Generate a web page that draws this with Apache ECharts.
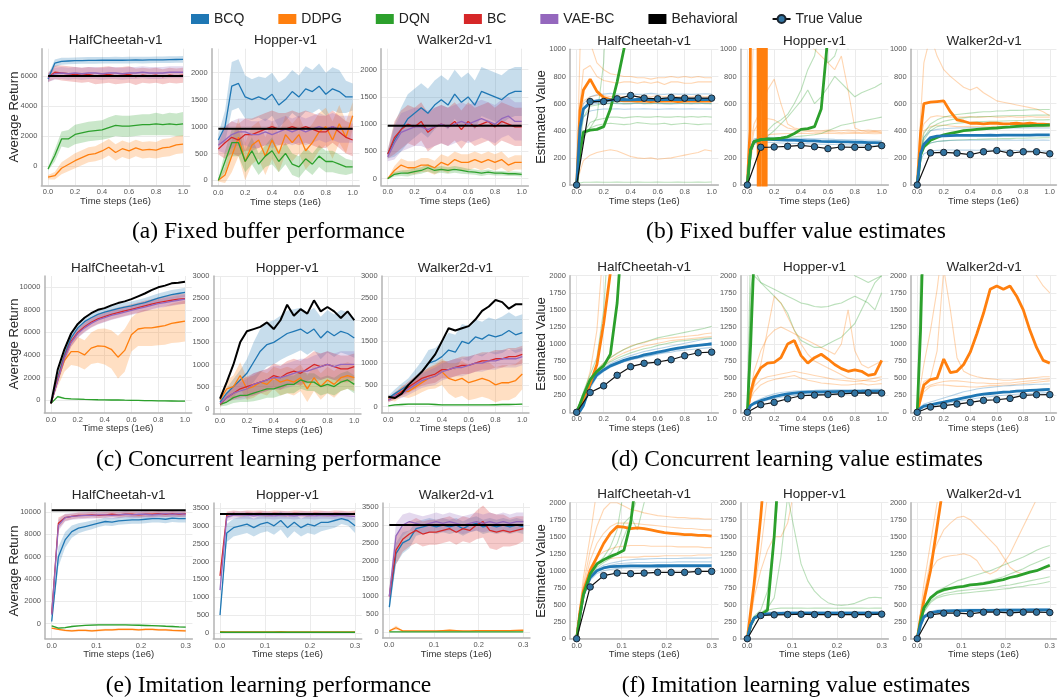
<!DOCTYPE html>
<html>
<head>
<meta charset="utf-8">
<title>BCQ experiments</title>
<script src="https://cdn.jsdelivr.net/npm/echarts@6/dist/echarts.min.js"></script>
<style>
  html, body { margin: 0; padding: 0; background: #fff; }
  #main { width: 1058px; height: 700px; }
</style>
</head>
<body>
<div id="main"></div>
<script>
// ---- x grids ----
const X1 = [0, 0.05, 0.1, 0.15, 0.2, 0.25, 0.3, 0.35, 0.4, 0.45, 0.5, 0.55, 0.6, 0.65, 0.7, 0.75, 0.8, 0.85, 0.9, 0.95, 1.0];
const VX1 = [0, 0.025, 0.05, 0.1, 0.15, 0.2, 0.25, 0.3, 0.35, 0.4, 0.45, 0.5, 0.55, 0.6, 0.65, 0.7, 0.75, 0.8, 0.85, 0.9, 0.95, 1.0];
const TVX1 = [0, 0.1, 0.2, 0.3, 0.4, 0.5, 0.6, 0.7, 0.8, 0.9, 1.0];
const X3 = [0, 0.015, 0.03, 0.045, 0.06, 0.075, 0.09, 0.105, 0.12, 0.135, 0.15, 0.165, 0.18, 0.195, 0.21, 0.225, 0.24, 0.255, 0.27, 0.285, 0.3];
const VX3 = [0, 0.0075, 0.015, 0.03, 0.045, 0.06, 0.075, 0.09, 0.105, 0.12, 0.135, 0.15, 0.165, 0.18, 0.195, 0.21, 0.225, 0.24, 0.255, 0.27, 0.285, 0.3];
const TVX3 = [0, 0.03, 0.06, 0.09, 0.12, 0.15, 0.18, 0.21, 0.24, 0.27, 0.3];
const XT1 = [0, 0.2, 0.4, 0.6, 0.8, 1.0];
const XT3 = [0, 0.1, 0.2, 0.3];

// ---- (a) fixed buffer performance ----
const A_HC_BCQ = [5800, 6850, 6980, 7000, 7020, 7030, 7040, 7040, 7050, 7050, 7060, 7050, 7060, 7070, 7060, 7070, 7080, 7080, 7090, 7100, 7110];
const A_HC_BCQ_SD = [250, 250, 230, 220, 220, 220, 220, 220, 220, 220, 220, 220, 220, 220, 220, 220, 220, 220, 220, 220, 220];
const A_HC_DDPG = [-750, -650, -150, 100, 350, 550, 750, 820, 1000, 1250, 900, 1150, 1000, 1200, 1050, 1100, 1050, 1200, 1250, 1400, 1450];
const A_HC_DDPG_SD = [150, 250, 400, 450, 500, 500, 500, 500, 550, 550, 550, 550, 550, 550, 550, 550, 550, 600, 600, 600, 600];
const A_HC_DQN = [-200, 700, 1800, 1800, 2100, 2200, 2300, 2350, 2400, 2550, 2700, 2650, 2650, 2700, 2750, 2750, 2800, 2750, 2800, 2750, 2800];
const A_HC_DQN_SD = [100, 400, 500, 600, 650, 650, 650, 650, 650, 700, 700, 700, 700, 700, 700, 700, 750, 700, 750, 750, 800];
const A_HC_BC = [5900, 6250, 6200, 6150, 6100, 6050, 6100, 6000, 6050, 6100, 6000, 6050, 6100, 5950, 6050, 6000, 6050, 5950, 6050, 6000, 6050];
const A_HC_BC_SD = [300, 450, 500, 500, 500, 500, 500, 550, 550, 550, 550, 550, 550, 550, 500, 500, 500, 500, 500, 500, 500];
const A_HC_VAE = [5900, 6150, 6200, 6150, 6200, 6150, 6200, 6200, 6150, 6200, 6200, 6150, 6200, 6200, 6250, 6200, 6200, 6200, 6250, 6250, 6250];
const A_HC_VAE_SD = [300, 400, 400, 400, 400, 400, 400, 400, 400, 400, 400, 400, 400, 400, 400, 400, 400, 400, 400, 400, 400];
const A_HC_BEH = 6000;

const A_HOP_BCQ = [750, 1000, 1750, 1800, 1550, 1500, 1550, 1500, 1600, 1400, 1500, 1650, 1550, 1700, 1650, 1750, 1600, 1700, 1650, 1550, 1550];
const A_HOP_BCQ_SD = [100, 300, 450, 450, 400, 380, 380, 400, 400, 420, 400, 400, 400, 420, 400, 420, 400, 400, 400, 300, 250];
const A_HOP_DDPG = [0, 100, 450, 800, 350, 650, 750, 450, 750, 500, 850, 700, 850, 550, 700, 900, 1000, 750, 1050, 800, 1200];
const A_HOP_DDPG_SD = [20, 150, 300, 350, 350, 350, 350, 350, 350, 350, 350, 350, 350, 350, 350, 350, 350, 350, 350, 300, 250];
const A_HOP_DQN = [0, 350, 700, 700, 350, 550, 300, 450, 550, 350, 500, 300, 250, 400, 300, 450, 350, 350, 300, 250, 250];
const A_HOP_DQN_SD = [20, 200, 250, 250, 200, 250, 200, 200, 250, 200, 200, 200, 200, 200, 200, 200, 200, 200, 180, 150, 120];
const A_HOP_BC = [580, 700, 800, 750, 850, 850, 900, 950, 1000, 950, 950, 1000, 950, 1000, 950, 900, 900, 1000, 900, 800, 750];
const A_HOP_BC_SD = [100, 300, 300, 300, 300, 300, 300, 300, 300, 300, 300, 300, 300, 300, 300, 300, 300, 300, 300, 300, 300];
const A_HOP_VAE = [650, 750, 850, 900, 900, 850, 850, 900, 850, 900, 950, 900, 950, 900, 950, 1000, 950, 1000, 950, 950, 950];
const A_HOP_VAE_SD = [100, 250, 250, 250, 250, 250, 250, 250, 250, 250, 250, 250, 250, 250, 250, 250, 250, 250, 250, 250, 250];
const A_HOP_BEH = 960;

const A_WAL_BCQ = [450, 700, 900, 1100, 1200, 1300, 1200, 1350, 1450, 1350, 1550, 1400, 1500, 1350, 1600, 1550, 1500, 1450, 1550, 1600, 1600];
const A_WAL_BCQ_SD = [80, 300, 400, 450, 450, 450, 450, 450, 450, 450, 450, 450, 450, 450, 450, 450, 450, 450, 450, 450, 450];
const A_WAL_DDPG = [0, 150, 250, 200, 200, 250, 250, 200, 300, 250, 350, 300, 300, 350, 300, 350, 300, 350, 250, 300, 300];
const A_WAL_DDPG_SD = [10, 80, 120, 120, 120, 130, 130, 130, 150, 150, 150, 150, 150, 150, 150, 150, 150, 150, 130, 130, 130];
const A_WAL_DQN = [0, 80, 100, 100, 130, 150, 200, 150, 170, 150, 170, 150, 130, 120, 100, 120, 100, 100, 90, 90, 80];
const A_WAL_DQN_SD = [10, 40, 50, 60, 60, 60, 70, 60, 60, 60, 60, 60, 50, 50, 50, 50, 40, 40, 40, 40, 40];
const A_WAL_BC = [450, 750, 900, 1000, 950, 1050, 850, 950, 1000, 950, 1050, 900, 1050, 950, 1000, 1050, 950, 1050, 1000, 950, 950];
const A_WAL_BC_SD = [80, 300, 350, 350, 350, 350, 350, 350, 350, 350, 350, 350, 350, 350, 350, 350, 350, 350, 350, 350, 350];
const A_WAL_VAE = [400, 650, 850, 900, 950, 950, 900, 950, 1000, 950, 1000, 1050, 1000, 1050, 1100, 1050, 1000, 1100, 1150, 1050, 1050];
const A_WAL_VAE_SD = [80, 300, 350, 350, 350, 350, 350, 350, 350, 350, 350, 350, 350, 350, 350, 350, 350, 350, 350, 350, 350];
const A_WAL_BEH = 970;

// ---- (b) fixed buffer value estimates ----
const B_HC_TRUE = [0, 615, 615, 635, 660, 640, 635, 645, 640, 640, 640];
const B_HC_BCQ = [0, 420, 560, 610, 620, 625, 625, 628, 630, 628, 630, 630, 628, 630, 632, 630, 630, 632, 630, 632, 630, 632];
const B_HC_DDPG = [0, 550, 700, 780, 690, 645, 630, 625, 620, 620, 618, 620, 615, 620, 618, 620, 615, 618, 620, 618, 620, 618];
const B_HC_DQN = [0, 250, 390, 405, 410, 430, 560, 760, 1000, 1300, 1600, 2000, 2400, 2800, 3000, 3000, 3000, 3000, 3000, 3000, 3000, 3000];
const B_HC_DDPG_SEEDS = [
  [0, 1000, 1150, 1050, 900, 850, 820, 810, 800, 800, 790, 790, 780, 790, 790, 800, 790, 800, 790, 800, 790, 790],
  [0, 600, 850, 880, 800, 770, 760, 750, 760, 760, 750, 760, 750, 760, 740, 760, 760, 750, 750, 760, 760, 760],
  [0, 500, 620, 650, 660, 660, 650, 660, 650, 660, 650, 660, 650, 660, 650, 660, 650, 655, 650, 660, 650, 655],
  [0, 100, 180, 220, 240, 250, 260, 250, 230, 210, 200, 195, 200, 190, 195, 200, 210, 220, 230, 240, 260, 250]
];
const B_HC_DQN_SEEDS = [
  [0, 200, 380, 460, 480, 490, 500, 500, 495, 500, 505, 500, 500, 505, 500, 500, 505, 500, 505, 500, 505, 500],
  [0, 180, 350, 420, 440, 450, 455, 450, 445, 450, 460, 455, 450, 450, 455, 445, 450, 455, 450, 445, 450, 450],
  [0, 15, 20, 20, 22, 20, 20, 22, 20, 20, 22, 20, 20, 22, 20, 20, 22, 20, 20, 22, 20, 22],
  [0, 250, 380, 420, 500, 900, 2000, 3000, 3000, 3000, 3000, 3000, 3000, 3000, 3000, 3000, 3000, 3000, 3000, 3000, 3000, 3000],
  [0, 300, 500, 580, 590, 600, 600, 605, 600, 600, 605, 600, 600, 605, 600, 600, 605, 600, 600, 605, 600, 600]
];
const B_HC_BCQ_SEEDS = [
  [0, 380, 500, 545, 555, 560, 560, 562, 558, 560, 560, 562, 560, 558, 560, 562, 560, 560, 562, 560, 560, 560],
  [0, 450, 600, 650, 665, 670, 675, 670, 672, 670, 668, 670, 675, 670, 668, 672, 670, 670, 668, 670, 672, 670],
  [0, 420, 560, 590, 600, 600, 605, 600, 598, 600, 602, 600, 605, 600, 600, 598, 600, 602, 600, 600, 602, 600]
];

const B_HOP_TRUE = [0, 278, 280, 285, 292, 282, 268, 280, 278, 278, 290];
const B_HOP_BCQ = [0, 260, 320, 335, 338, 335, 333, 330, 330, 328, 325, 325, 322, 320, 320, 318, 318, 315, 315, 312, 312, 310];
const B_HOP_DQN = [0, 260, 320, 335, 340, 340, 345, 355, 380, 410, 415, 430, 560, 1100, 3000, 3000, 3000, 3000, 3000, 3000, 3000, 3000];
const B_HOP_DDPG_X = [0, 0.02, 0.032, 0.078, 0.081, 0.085, 0.089, 0.093, 0.097, 0.1, 0.116, 0.12, 0.125, 0.13, 0.135, 0.14, 0.145, 0.15, 1.0];
const B_HOP_DDPG = [0, 400, 3000, 3000, -300, 3000, -300, 3000, -300, 3000, 3000, -300, 3000, -300, 3000, -300, 3000, 3000, 3000];
const B_HOP_DDPG_SEEDS = [
  [0, 300, 450, 550, 700, 780, 600, 450, 420, 410, 405, 400, 400, 405, 400, 400, 405, 400, 400, 405, 400, 400],
  [0, 250, 400, 480, 490, 480, 450, 420, 410, 400, 395, 390, 390, 395, 390, 385, 390, 390, 385, 390, 390, 385],
  [0, 500, 1200, 1500, 1400, 1300, 1250, 1200, 1150, 1100, 1050, 1000, 950, 900, 850, 950, 700, 420, 400, 390, 395, 390],
  [0, 200, 300, 350, 370, 375, 378, 380, 380, 382, 380, 378, 380, 382, 380, 378, 380, 382, 380, 380, 378, 380]
];
const B_HOP_DQN_SEEDS = [
  [0, 250, 320, 340, 360, 400, 450, 500, 560, 620, 700, 600, 650, 720, 800, 750, 700, 650, 680, 700, 720, 750],
  [0, 240, 310, 330, 340, 345, 350, 350, 355, 360, 365, 370, 380, 400, 420, 440, 450, 460, 470, 480, 490, 500],
  [0, 250, 330, 360, 400, 450, 480, 520, 600, 700, 850, 950, 1200, 900, 950, 1100, 1000, 1400, 2000, 3000, 3000, 3000]
];
const B_HOP_BCQ_SEEDS = [
  [0, 250, 310, 330, 330, 328, 326, 325, 324, 322, 320, 320, 318, 318, 316, 316, 315, 314, 312, 312, 310, 310],
  [0, 270, 340, 350, 352, 350, 348, 346, 345, 344, 342, 340, 340, 338, 336, 335, 334, 333, 332, 330, 330, 328],
  [0, 240, 300, 315, 315, 312, 310, 308, 306, 305, 304, 302, 300, 300, 298, 297, 296, 295, 294, 293, 292, 290]
];

const B_WAL_TRUE = [0, 237, 240, 235, 224, 245, 254, 235, 245, 245, 230];
const B_WAL_BCQ = [0, 230, 300, 350, 360, 362, 364, 365, 366, 366, 365, 366, 367, 366, 367, 368, 367, 368, 368, 369, 369, 370];
const B_WAL_DQN = [0, 220, 280, 330, 350, 370, 380, 390, 400, 405, 410, 414, 417, 420, 425, 428, 432, 435, 437, 440, 440, 442];
const B_WAL_DDPG = [0, 380, 600, 610, 615, 620, 540, 480, 470, 455, 455, 450, 455, 455, 450, 452, 455, 450, 455, 450, 448, 445];
const B_WAL_DDPG_SEEDS = [
  [0, 500, 900, 1100, 950, 850, 800, 760, 720, 700, 720, 680, 650, 620, 610, 600, 590, 580, 570, 560, 540, 510],
  [0, 350, 450, 500, 510, 505, 500, 500, 500, 505, 500, 500, 505, 500, 500, 505, 500, 500, 505, 500, 500, 500],
  [0, 300, 400, 430, 440, 440, 435, 430, 430, 432, 430, 428, 430, 432, 430, 428, 430, 430, 432, 430, 430, 430]
];
const B_WAL_DQN_SEEDS = [
  [0, 250, 380, 450, 480, 500, 510, 520, 525, 530, 535, 540, 540, 545, 545, 550, 550, 552, 555, 555, 556, 556],
  [0, 240, 350, 420, 450, 470, 480, 490, 495, 500, 502, 505, 505, 508, 510, 510, 512, 512, 514, 515, 515, 516],
  [0, 230, 330, 400, 430, 440, 450, 455, 460, 462, 465, 468, 470, 470, 472, 474, 475, 476, 478, 480, 480, 482],
  [0, 200, 280, 310, 320, 325, 330, 332, 334, 335, 336, 338, 340, 340, 342, 342, 344, 345, 346, 346, 348, 348]
];
const B_WAL_BCQ_SEEDS = [
  [0, 260, 350, 400, 410, 415, 418, 420, 420, 422, 421, 422, 420, 421, 422, 420, 421, 420, 422, 421, 420, 420],
  [0, 220, 280, 310, 320, 325, 328, 330, 330, 331, 330, 332, 331, 330, 332, 331, 330, 331, 332, 330, 331, 330],
  [0, 180, 230, 250, 255, 258, 258, 258, 257, 258, 256, 257, 256, 255, 256, 255, 254, 253, 252, 252, 250, 250]
];

// ---- (c) concurrent learning performance ----
const C_HC_BEH = [-300, 2700, 4500, 5900, 6750, 7300, 7700, 8000, 8150, 8400, 8600, 8750, 8950, 9200, 9450, 9750, 10000, 10150, 10350, 10400, 10500];
const C_HC_BCQ = [-300, 2000, 4000, 5500, 6400, 6950, 7300, 7600, 7800, 7950, 8100, 8250, 8350, 8500, 8650, 8850, 9050, 9200, 9350, 9450, 9550];
const C_HC_BCQ_SD = [100, 300, 400, 450, 450, 450, 400, 400, 400, 400, 400, 400, 400, 400, 400, 400, 400, 400, 400, 400, 400];
const C_HC_BC = [-300, 1800, 3800, 5200, 6000, 6500, 6900, 7200, 7400, 7600, 7750, 7900, 8050, 8200, 8350, 8500, 8650, 8750, 8850, 8950, 9000];
const C_HC_BC_SD = [100, 300, 450, 450, 450, 450, 450, 450, 450, 450, 450, 450, 450, 450, 450, 450, 450, 450, 450, 450, 450];
const C_HC_VAE = [-300, 1700, 3700, 5100, 5900, 6400, 6800, 7100, 7300, 7500, 7650, 7800, 7950, 8100, 8250, 8400, 8550, 8650, 8750, 8850, 8950];
const C_HC_VAE_SD = [100, 300, 400, 400, 400, 400, 400, 400, 400, 400, 400, 400, 400, 400, 400, 400, 400, 400, 400, 400, 400];
const C_HC_DDPG = [-300, 1800, 3500, 4300, 4300, 4000, 4600, 4800, 4750, 4500, 3800, 4400, 5800, 6300, 6400, 6400, 6500, 6600, 6800, 6900, 7000];
const C_HC_DDPG_SD = [100, 600, 1000, 1200, 1300, 1300, 1400, 1500, 1600, 1700, 1900, 1900, 1500, 1500, 1600, 1600, 1650, 1700, 1750, 1800, 1800];
const C_HC_DQN = [-300, 300, 150, 100, 80, 50, 40, 20, 10, 0, 0, -20, -30, -40, -50, -60, -70, -80, -90, -100, -100];
const C_HC_DQN_SD = [50, 100, 80, 60, 60, 50, 50, 50, 50, 50, 50, 50, 50, 50, 50, 50, 50, 50, 50, 50, 50];

const C_HOP_BEH = [230, 600, 1000, 1500, 1750, 1800, 1850, 1950, 1800, 2000, 2350, 2100, 2250, 2150, 2450, 2200, 2300, 2200, 2050, 2200, 2000];
const C_HOP_BCQ = [150, 350, 500, 650, 800, 1050, 1300, 1450, 1500, 1600, 1700, 1750, 1800, 1700, 1800, 1600, 1750, 1650, 1750, 1700, 1600];
const C_HOP_BCQ_SD = [50, 120, 170, 220, 320, 450, 500, 500, 500, 500, 520, 500, 480, 480, 480, 480, 480, 480, 480, 480, 450];
const C_HOP_BC = [100, 250, 350, 450, 500, 550, 600, 650, 750, 700, 800, 850, 800, 900, 1000, 950, 1000, 950, 900, 900, 950];
const C_HOP_BC_SD = [50, 100, 150, 200, 220, 250, 250, 250, 270, 270, 280, 280, 280, 280, 300, 300, 300, 300, 300, 300, 300];
const C_HOP_VAE = [120, 250, 350, 400, 450, 550, 600, 650, 700, 700, 750, 800, 850, 850, 900, 950, 1000, 950, 1000, 1000, 1000];
const C_HOP_VAE_SD = [50, 100, 150, 200, 220, 250, 250, 250, 270, 270, 280, 280, 280, 280, 300, 300, 300, 300, 300, 300, 300];
const C_HOP_DDPG = [200, 450, 500, 750, 450, 500, 600, 550, 700, 600, 650, 600, 700, 450, 700, 500, 650, 550, 700, 750, 700];
const C_HOP_DDPG_SD = [80, 200, 250, 300, 250, 250, 250, 250, 250, 300, 300, 300, 300, 300, 300, 300, 300, 300, 300, 300, 300];
const C_HOP_DQN = [100, 150, 250, 300, 300, 350, 400, 450, 450, 500, 550, 550, 650, 600, 600, 500, 550, 500, 600, 650, 550];
const C_HOP_DQN_SD = [50, 80, 120, 150, 150, 180, 200, 200, 200, 200, 200, 200, 200, 200, 200, 200, 200, 200, 200, 200, 200];

const C_WAL_BEH = [230, 200, 300, 500, 650, 800, 1000, 1200, 1500, 1800, 1750, 1800, 1850, 2000, 2200, 2300, 2450, 2400, 2250, 2350, 2350];
const C_WAL_BCQ = [200, 300, 400, 500, 650, 800, 1000, 1050, 1150, 1300, 1250, 1500, 1450, 1600, 1550, 1650, 1600, 1650, 1750, 1650, 1700];
const C_WAL_BCQ_SD = [50, 100, 130, 150, 200, 250, 300, 300, 350, 400, 400, 400, 400, 400, 400, 400, 400, 420, 420, 420, 420];
const C_WAL_BC = [150, 250, 350, 450, 550, 650, 700, 750, 850, 850, 900, 950, 950, 1000, 1050, 1050, 1100, 1100, 1150, 1150, 1200];
const C_WAL_BC_SD = [50, 80, 100, 130, 150, 170, 180, 200, 200, 200, 200, 200, 200, 200, 200, 200, 200, 200, 200, 200, 200];
const C_WAL_VAE = [150, 250, 300, 400, 500, 600, 650, 700, 800, 850, 900, 900, 950, 1000, 1000, 1050, 1050, 1100, 1100, 1100, 1150];
const C_WAL_VAE_SD = [50, 80, 100, 130, 150, 170, 180, 200, 200, 200, 200, 200, 200, 200, 200, 200, 200, 200, 200, 200, 200];
const C_WAL_DDPG = [200, 200, 350, 350, 450, 550, 650, 700, 800, 650, 600, 650, 550, 600, 650, 600, 500, 550, 550, 600, 750];
const C_WAL_DDPG_SD = [50, 80, 120, 150, 200, 220, 250, 280, 300, 350, 400, 400, 400, 420, 420, 420, 400, 400, 400, 380, 350];
const C_WAL_DQN = [20, 40, 50, 60, 60, 60, 60, 50, 40, 40, 40, 40, 40, 40, 40, 40, 45, 50, 50, 55, 60];
const C_WAL_DQN_SD = [10, 15, 20, 20, 20, 20, 20, 15, 15, 15, 15, 15, 15, 15, 15, 15, 15, 15, 15, 15, 15];

// ---- (d) concurrent learning value estimates ----
const D_HC_TRUE = [0, 290, 387, 542, 668, 717, 736, 770, 828, 872, 881];
const D_HC_BCQ = [0, 20, 100, 400, 550, 620, 680, 720, 760, 790, 810, 840, 860, 880, 900, 920, 940, 955, 970, 980, 990, 1000];
const D_HC_DDPG = [0, 100, 200, 420, 700, 1300, 2050, 3000, 3000, 3000, 3000, 3000, 3000, 3000, 3000, 3000, 3000, 3000, 3000, 3000, 3000, 3000];
const D_HC_DQN = [0, 120, 250, 480, 600, 680, 850, 1600, 3000, 3000, 3000, 3000, 3000, 3000, 3000, 3000, 3000, 3000, 3000, 3000, 3000, 3000];
const D_HC_DDPG_SEEDS = [
  [0, 80, 180, 450, 620, 720, 800, 870, 920, 970, 1000, 1020, 1050, 1070, 1080, 1090, 1100, 1110, 1120, 1130, 1150, 1160],
  [0, 100, 250, 600, 1200, 2500, 3000, 3000, 3000, 3000, 3000, 3000, 3000, 3000, 3000, 3000, 3000, 3000, 3000, 3000, 3000, 3000],
  [0, 60, 150, 400, 580, 680, 760, 820, 870, 910, 940, 970, 990, 1010, 1030, 1050, 1060, 1070, 1080, 1090, 1100, 1110]
];
const D_HC_DQN_SEEDS = [
  [0, 100, 220, 500, 620, 720, 800, 860, 920, 960, 1000, 1030, 1060, 1090, 1110, 1130, 1150, 1170, 1190, 1210, 1230, 1260],
  [0, 90, 200, 450, 600, 680, 740, 790, 830, 870, 900, 930, 950, 980, 1000, 1020, 1040, 1050, 1060, 1070, 1080, 1090],
  [0, 150, 300, 550, 800, 1500, 3000, 3000, 3000, 3000, 3000, 3000, 3000, 3000, 3000, 3000, 3000, 3000, 3000, 3000, 3000, 3000]
];
const D_HC_BCQ_SEEDS = [
  [0, 10, 80, 350, 520, 600, 660, 700, 740, 770, 800, 820, 840, 860, 880, 900, 920, 940, 960, 980, 1000, 1020],
  [0, 15, 90, 380, 540, 610, 670, 710, 740, 770, 790, 810, 830, 850, 870, 880, 900, 910, 920, 930, 940, 950],
  [0, 20, 120, 430, 580, 650, 710, 760, 800, 830, 860, 890, 910, 930, 950, 970, 990, 1010, 1030, 1050, 1070, 1080]
];

const D_HOP_TRUE = [0, 111, 145, 198, 242, 252, 260, 270, 280, 285, 281];
const D_HOP_BCQ = [0, 100, 130, 170, 200, 230, 250, 270, 280, 290, 295, 300, 300, 302, 303, 305, 305, 307, 308, 310, 310, 310];
const D_HOP_DQN = [0, 1000, 2300, 3000, 3000, 3000, 3000, 3000, 3000, 3000, 3000, 3000, 3000, 3000, 3000, 3000, 3000, 3000, 3000, 3000, 3000, 3000];
const D_HOP_DDPG = [0, 300, 480, 650, 720, 730, 800, 1000, 1050, 830, 720, 800, 850, 780, 700, 640, 600, 620, 600, 540, 560, 760];
const D_HOP_DDPG_SEEDS = [
  [0, 200, 400, 700, 1200, 1700, 1600, 1400, 1200, 1000, 850, 750, 700, 650, 600, 550, 500, 480, 470, 460, 450, 480],
  [0, 250, 380, 480, 520, 540, 560, 580, 600, 580, 560, 540, 520, 500, 480, 470, 460, 450, 460, 480, 500, 520],
  [0, 200, 300, 400, 450, 480, 500, 520, 540, 500, 470, 450, 430, 420, 410, 400, 400, 410, 420, 400, 410, 420],
  [0, 300, 600, 900, 1100, 1200, 1250, 1200, 1150, 1100, 1050, 1000, 950, 900, 850, 1000, 1500, 900, 700, 650, 700, 750]
];
const D_HOP_DQN_SEEDS = [
  [0, 1800, 2100, 1900, 1800, 1700, 1600, 1450, 1200, 1050, 1000, 950, 950, 1000, 1050, 1100, 1200, 1300, 1500, 1700, 1900, 2000],
  [0, 1500, 2000, 1900, 1850, 1800, 1750, 1700, 1650, 1600, 1580, 1550, 1540, 1550, 1580, 1600, 1650, 1700, 1650, 1600, 1500, 1750],
  [0, 2500, 3000, 3000, 3000, 3000, 3000, 3000, 3000, 3000, 3000, 3000, 3000, 3000, 3000, 3000, 2200, 2000, 1950, 1900, 1950, 2000]
];
const D_HOP_BCQ_SEEDS = [
  [0, 110, 150, 200, 240, 270, 290, 300, 310, 315, 320, 322, 325, 326, 328, 330, 330, 332, 333, 334, 335, 336],
  [0, 90, 120, 150, 180, 200, 220, 235, 245, 255, 260, 265, 270, 272, 275, 277, 280, 282, 284, 285, 286, 288]
];

const D_WAL_TRUE = [0, 77, 97, 121, 145, 174, 184, 203, 247, 257, 258];
const D_WAL_BCQ = [0, 60, 90, 110, 130, 150, 170, 190, 210, 230, 250, 265, 275, 285, 295, 300, 310, 315, 320, 325, 330, 335];
const D_WAL_DQN = [0, 1200, 3000, 3000, 3000, 3000, 3000, 3000, 3000, 3000, 3000, 3000, 3000, 3000, 3000, 3000, 3000, 3000, 3000, 3000, 3000, 3000];
const D_WAL_DDPG = [0, 200, 400, 480, 500, 780, 580, 600, 700, 880, 1150, 1450, 1800, 1850, 1800, 1850, 1700, 1500, 1200, 950, 760, 720];
const D_WAL_DDPG_SEEDS = [
  [0, 300, 450, 500, 900, 2100, 1500, 800, 600, 550, 520, 500, 490, 480, 470, 470, 480, 490, 500, 510, 520, 520],
  [0, 200, 350, 400, 430, 450, 460, 460, 450, 440, 430, 430, 420, 420, 430, 430, 440, 450, 460, 470, 480, 490],
  [0, 150, 300, 380, 400, 400, 390, 380, 380, 370, 370, 380, 390, 390, 400, 400, 410, 420, 430, 440, 450, 460],
  [0, 400, 700, 1200, 1800, 2600, 3000, 3000, 3000, 3000, 3000, 3000, 3000, 3000, 3000, 3000, 3000, 2600, 2200, 2000, 1850, 1750]
];
const D_WAL_DQN_SEEDS = [
  [0, 2000, 3000, 3000, 3000, 3000, 3000, 3000, 3000, 3000, 3000, 3000, 3000, 3000, 3000, 3000, 3000, 3000, 3000, 3000, 3000, 3000]
];
const D_WAL_BCQ_SEEDS = [
  [0, 80, 120, 150, 180, 210, 240, 270, 300, 320, 340, 355, 365, 375, 385, 390, 395, 400, 405, 410, 412, 415],
  [0, 50, 70, 90, 100, 120, 140, 160, 175, 190, 205, 220, 230, 240, 250, 258, 265, 270, 275, 280, 285, 290]
];

// ---- (e) imitation learning performance ----
const E_HC_BEH = 10150;
const E_HC_BCQ = [200, 6000, 7500, 8250, 8550, 8700, 8850, 9000, 9150, 9100, 9200, 9250, 9300, 9300, 9350, 9400, 9400, 9350, 9450, 9400, 9400];
const E_HC_BCQ_SD = [200, 900, 700, 550, 450, 400, 400, 350, 350, 350, 350, 350, 350, 350, 350, 350, 350, 350, 350, 350, 350];
const E_HC_BC = [900, 9000, 9500, 9600, 9700, 9700, 9750, 9700, 9750, 9800, 9750, 9800, 9800, 9750, 9800, 9800, 9850, 9800, 9850, 9800, 9850];
const E_HC_BC_SD = [300, 500, 300, 250, 250, 250, 250, 250, 250, 250, 250, 250, 250, 250, 250, 250, 250, 250, 250, 250, 250];
const E_HC_VAE = [800, 8800, 9500, 9600, 9650, 9700, 9700, 9750, 9750, 9700, 9750, 9800, 9750, 9800, 9800, 9750, 9800, 9850, 9800, 9850, 9800];
const E_HC_VAE_SD = [300, 500, 350, 300, 300, 300, 300, 300, 300, 300, 300, 300, 300, 300, 300, 300, 300, 300, 300, 300, 300];
const E_HC_DDPG = [-400, -500, -600, -650, -600, -600, -650, -600, -550, -550, -500, -500, -500, -550, -500, -500, -550, -550, -600, -620, -650];
const E_HC_DDPG_SD = [60, 80, 100, 100, 100, 100, 100, 100, 100, 100, 100, 100, 100, 100, 100, 100, 100, 100, 100, 100, 100];
const E_HC_DQN = [-200, -400, -350, -250, -200, -150, -120, -100, -100, -100, -100, -100, -120, -140, -160, -180, -200, -230, -250, -280, -300];
const E_HC_DQN_SD = [50, 60, 60, 60, 60, 60, 60, 60, 60, 60, 60, 60, 60, 60, 60, 60, 60, 60, 60, 60, 60];

const E_HOP_BEH = 3330;
const E_HOP_BCQ = [500, 2800, 2950, 3000, 3050, 2950, 3050, 3100, 3000, 3150, 2950, 3100, 2950, 3050, 3000, 3100, 3100, 3150, 3200, 3150, 3000];
const E_HOP_BCQ_SD = [80, 250, 250, 250, 250, 250, 250, 250, 250, 250, 300, 250, 250, 250, 250, 250, 200, 200, 150, 150, 200];
const E_HOP_BC = [1600, 3300, 3350, 3330, 3350, 3340, 3350, 3330, 3350, 3340, 3330, 3350, 3340, 3330, 3350, 3340, 3330, 3350, 3340, 3330, 3350];
const E_HOP_BC_SD = [150, 100, 80, 80, 80, 80, 80, 80, 80, 80, 80, 80, 80, 80, 80, 80, 80, 80, 80, 80, 80];
const E_HOP_VAE = [1200, 3250, 3300, 3300, 3300, 3280, 3300, 3300, 3280, 3300, 3300, 3280, 3300, 3300, 3280, 3300, 3300, 3280, 3300, 3280, 3260];
const E_HOP_VAE_SD = [150, 120, 100, 100, 100, 100, 100, 100, 100, 100, 100, 100, 100, 100, 100, 100, 100, 100, 100, 100, 100];
const E_HOP_DDPG = [40, 30, 30, 30, 30, 30, 30, 30, 30, 40, 30, 30, 30, 30, 30, 30, 30, 30, 30, 30, 30];
const E_HOP_DDPG_SD = [10, 10, 10, 10, 10, 10, 10, 10, 10, 10, 10, 10, 10, 10, 10, 10, 10, 10, 10, 10, 10];
const E_HOP_DQN = [20, 20, 20, 20, 20, 20, 20, 20, 20, 20, 20, 20, 20, 20, 20, 20, 20, 20, 20, 20, 20];
const E_HOP_DQN_SD = [5, 5, 5, 5, 5, 5, 5, 5, 5, 5, 5, 5, 5, 5, 5, 5, 5, 5, 5, 5, 5];

const E_WAL_BEH = 3000;
const E_WAL_BCQ = [700, 2200, 2500, 2600, 2900, 2950, 3000, 2950, 3000, 2950, 3000, 2900, 3000, 3050, 2950, 3000, 2950, 3000, 2950, 3000, 2950];
const E_WAL_BCQ_SD = [150, 300, 300, 250, 200, 200, 200, 200, 200, 200, 200, 200, 200, 200, 200, 200, 200, 200, 200, 200, 200];
const E_WAL_BC = [1000, 2300, 2600, 2750, 2850, 2750, 2800, 2800, 2850, 2900, 2800, 2900, 2850, 3000, 3100, 2850, 2800, 2850, 2800, 2850, 2900];
const E_WAL_BC_SD = [200, 400, 350, 350, 350, 350, 350, 350, 350, 350, 350, 350, 350, 400, 450, 500, 500, 450, 400, 400, 350];
const E_WAL_VAE = [1000, 2700, 3000, 3100, 3050, 3000, 3050, 3100, 3050, 3100, 3050, 3000, 3050, 3100, 3050, 3100, 3050, 3100, 3050, 3100, 3100];
const E_WAL_VAE_SD = [200, 350, 300, 250, 250, 250, 250, 250, 250, 250, 250, 250, 250, 250, 250, 250, 250, 250, 250, 250, 250];
const E_WAL_DDPG = [30, 120, 30, 30, 30, 30, 30, 30, 40, 50, 40, 30, 30, 40, 40, 40, 40, 40, 40, 45, 50];
const E_WAL_DDPG_SD = [10, 60, 15, 15, 15, 15, 15, 15, 15, 15, 15, 15, 15, 15, 15, 15, 15, 15, 15, 15, 15];
const E_WAL_DQN = [5, 5, 5, 5, 5, 5, 5, 5, 5, 5, 5, 5, 5, 5, 5, 5, 5, 5, 5, 5, 5];
const E_WAL_DQN_SD = [5, 5, 5, 5, 5, 5, 5, 5, 5, 5, 5, 5, 5, 5, 5, 5, 5, 5, 5, 5, 5];

// ---- (f) imitation learning value estimates ----
const F_HC_TRUE = [0, 761, 927, 966, 956, 965, 976, 975, 975, 990, 990];
const F_HC_BCQ = [0, 350, 650, 900, 1000, 1040, 1060, 1065, 1068, 1070, 1070, 1072, 1072, 1073, 1073, 1074, 1074, 1075, 1075, 1075, 1075, 1075];
const F_HC_DDPG = [0, 400, 700, 1000, 1200, 1400, 1550, 1650, 1640, 1620, 1630, 1620, 1600, 1580, 1560, 1550, 1540, 1530, 1530, 1520, 1520, 1510];
const F_HC_DQN = [0, 350, 650, 950, 1100, 1160, 1210, 1250, 1300, 1700, 2500, 3000, 3000, 3000, 3000, 3000, 3000, 3000, 3000, 3000, 3000, 3000];
const F_HC_DDPG_SEEDS = [
  [0, 450, 800, 1300, 1650, 1900, 2000, 2000, 1950, 1900, 1880, 1850, 1830, 1810, 1800, 1790, 1780, 1780, 1770, 1770, 1760, 1760],
  [0, 400, 750, 1150, 1400, 1550, 1650, 1700, 1700, 1700, 1690, 1680, 1670, 1660, 1650, 1640, 1630, 1620, 1620, 1610, 1600, 1600],
  [0, 380, 700, 1050, 1200, 1280, 1320, 1350, 1360, 1370, 1370, 1370, 1360, 1360, 1360, 1360, 1350, 1350, 1350, 1350, 1340, 1340],
  [0, 380, 680, 1000, 1120, 1160, 1180, 1190, 1200, 1200, 1200, 1210, 1210, 1210, 1220, 1220, 1220, 1220, 1220, 1230, 1230, 1230],
  [0, 500, 900, 1500, 2200, 3000, 3000, 3000, 3000, 3000, 3000, 3000, 3000, 3000, 3000, 3000, 3000, 3000, 3000, 3000, 3000, 3000]
];
const F_HC_DQN_SEEDS = [
  [0, 350, 650, 950, 1100, 1200, 1350, 1600, 2200, 3000, 3000, 3000, 3000, 3000, 3000, 3000, 3000, 3000, 3000, 3000, 3000, 3000],
  [0, 340, 640, 930, 1080, 1150, 1250, 1400, 1700, 1800, 1600, 2000, 2500, 3000, 3000, 3000, 3000, 3000, 3000, 3000, 3000, 3000],
  [0, 330, 620, 900, 1050, 1120, 1180, 1250, 1500, 1750, 2100, 3000, 3000, 3000, 3000, 3000, 3000, 3000, 3000, 3000, 3000, 3000]
];
const F_HC_BCQ_SEEDS = [
  [0, 340, 640, 900, 1020, 1080, 1110, 1130, 1150, 1160, 1170, 1170, 1175, 1180, 1180, 1180, 1180, 1185, 1185, 1185, 1185, 1190],
  [0, 320, 600, 860, 960, 1000, 1020, 1030, 1040, 1040, 1040, 1045, 1045, 1045, 1050, 1050, 1050, 1050, 1050, 1050, 1050, 1050],
  [0, 330, 620, 880, 990, 1050, 1080, 1100, 1110, 1115, 1120, 1120, 1120, 1125, 1125, 1125, 1130, 1130, 1130, 1130, 1130, 1130]
];

const F_HOP_TRUE = [0, 341, 351, 355, 360, 355, 355, 355, 355, 355, 361];
const F_HOP_BCQ = [0, 200, 300, 350, 365, 370, 372, 374, 375, 375, 375, 376, 376, 376, 376, 376, 376, 376, 376, 376, 376, 376];
const F_HOP_DDPG = [0, 400, 800, 1800, 3000, 3000, 3000, 3000, 3000, 3000, 3000, 3000, 3000, 3000, 3000, 3000, 3000, 3000, 3000, 3000, 3000, 3000];
const F_HOP_DQN = [0, 200, 300, 350, 420, 1500, 3000, 3000, 3000, 3000, 3000, 3000, 3000, 3000, 3000, 3000, 3000, 3000, 3000, 3000, 3000, 3000];
const F_HOP_DDPG_SEEDS = [
  [0, 300, 600, 1000, 1300, 1500, 1500, 1700, 2200, 3000, 3000, 3000, 3000, 3000, 3000, 3000, 3000, 3000, 3000, 3000, 3000, 3000],
  [0, 350, 700, 1300, 2100, 3000, 3000, 3000, 3000, 3000, 3000, 3000, 3000, 3000, 3000, 3000, 3000, 3000, 3000, 3000, 3000, 3000]
];
const F_HOP_DQN_SEEDS = [
  [0, 200, 320, 380, 450, 600, 1200, 2100, 1600, 1100, 850, 700, 600, 530, 500, 490, 500, 520, 560, 600, 610, 600],
  [0, 200, 310, 380, 420, 440, 450, 450, 452, 450, 448, 450, 452, 450, 448, 450, 452, 450, 450, 448, 450, 450],
  [0, 210, 330, 420, 700, 1500, 2500, 3000, 3000, 3000, 3000, 3000, 3000, 3000, 3000, 3000, 3000, 3000, 3000, 3000, 3000, 3000]
];
const F_HOP_BCQ_SEEDS = [
  [0, 220, 320, 380, 390, 392, 393, 394, 395, 395, 395, 396, 396, 396, 396, 396, 396, 396, 396, 396, 396, 396],
  [0, 190, 290, 340, 355, 360, 362, 363, 364, 364, 364, 365, 365, 365, 365, 365, 365, 365, 365, 365, 365, 365]
];

const F_WAL_TRUE = [0, 351, 376, 375, 366, 390, 390, 380, 390, 390, 385];
const F_WAL_BCQ = [0, 200, 320, 380, 400, 405, 410, 412, 414, 415, 416, 417, 418, 418, 419, 420, 420, 421, 422, 422, 423, 424];
const F_WAL_DDPG = [0, 300, 550, 1000, 1650, 2300, 3000, 3000, 3000, 3000, 3000, 3000, 3000, 3000, 3000, 3000, 3000, 3000, 3000, 3000, 3000, 3000];
const F_WAL_DQN = [0, 250, 450, 600, 680, 720, 740, 760, 770, 790, 800, 810, 830, 850, 870, 900, 920, 950, 980, 1000, 1040, 1080];
const F_WAL_DDPG_SEEDS = [
  [0, 350, 650, 1150, 1400, 1600, 1700, 1780, 1800, 1750, 1650, 1550, 1450, 1350, 1200, 1050, 980, 950, 980, 1000, 1030, 1060],
  [0, 330, 600, 1000, 1150, 1200, 1220, 1230, 1250, 1220, 1150, 1000, 950, 1000, 1100, 1250, 1450, 1650, 1850, 2050, 2200, 2300],
  [0, 400, 800, 1400, 2000, 2500, 3000, 3000, 3000, 3000, 3000, 3000, 3000, 3000, 3000, 3000, 3000, 3000, 3000, 3000, 3000, 3000]
];
const F_WAL_DQN_SEEDS = [
  [0, 250, 450, 600, 700, 750, 800, 850, 880, 910, 940, 970, 1000, 1040, 1080, 1120, 1160, 1200, 1250, 1300, 1340, 1370],
  [0, 240, 430, 580, 660, 700, 730, 750, 770, 790, 810, 830, 850, 880, 910, 950, 990, 1030, 1080, 1120, 1160, 1200],
  [0, 230, 400, 550, 620, 660, 680, 700, 710, 720, 730, 740, 750, 760, 780, 790, 810, 830, 850, 870, 890, 910],
  [0, 220, 390, 530, 600, 630, 650, 660, 670, 680, 690, 700, 710, 720, 730, 740, 760, 770, 790, 800, 820, 840]
];
const F_WAL_BCQ_SEEDS = [
  [0, 210, 340, 400, 420, 425, 428, 430, 432, 433, 433, 434, 434, 435, 435, 435, 435, 435, 435, 435, 435, 435],
  [0, 190, 300, 360, 380, 390, 395, 398, 400, 400, 401, 402, 402, 403, 403, 403, 403, 403, 403, 403, 403, 403]
];

// ---- styling ----
const COLOR = { 'BCQ': '#1f77b4', 'DDPG': '#ff7f0e', 'DQN': '#2ca02c', 'BC': '#d62728', 'VAE-BC': '#9467bd' };
const FONT = 'Liberation Sans';

function zip(xs, ys) {
  return xs.map((x, i) => [x, ys[i]]);
}

function rgba(hex, a) {
  const n = parseInt(hex.slice(1), 16);
  return 'rgba(' + (n >> 16) + ',' + ((n >> 8) & 255) + ',' + (n & 255) + ',' + a + ')';
}

function perf(xs, beh, bcq, ddpg, dqn, bc, vae) {
  return { xs, beh, algos: [['BCQ'].concat(bcq), ['DDPG'].concat(ddpg), ['DQN'].concat(dqn), ['BC'].concat(bc), ['VAE-BC'].concat(vae)] };
}

const R1 = [-0.05, 1.05], R3 = [-0.015, 0.315];
const VY1 = [0, 200, 400, 600, 800, 1000];
const VY2 = [0, 250, 500, 750, 1000, 1250, 1500, 1750, 2000];
const panels = [
  // (a)
  { title: 'HalfCheetah-v1', rect: [41.3, 48.7, 148.5, 136.6], x: R1, xt: XT1, y: [-1290, 7820], yt: [0, 2000, 4000, 6000],
    perf: perf(X1, A_HC_BEH, [A_HC_BCQ, A_HC_BCQ_SD], [A_HC_DDPG, A_HC_DDPG_SD], [A_HC_DQN, A_HC_DQN_SD], [A_HC_BC, A_HC_BC_SD], [A_HC_VAE, A_HC_VAE_SD]) },
  { title: 'Hopper-v1', rect: [211.6, 48.7, 147.8, 137.3], x: R1, xt: XT1, y: [-105, 2446], yt: [0, 500, 1000, 1500, 2000],
    perf: perf(X1, A_HOP_BEH, [A_HOP_BCQ, A_HOP_BCQ_SD], [A_HOP_DDPG, A_HOP_DDPG_SD], [A_HOP_DQN, A_HOP_DQN_SD], [A_HOP_BC, A_HOP_BC_SD], [A_HOP_VAE, A_HOP_VAE_SD]) },
  { title: 'Walker2d-v1', rect: [381, 48.7, 147.4, 136.6], x: R1, xt: XT1, y: [-122, 2385], yt: [0, 500, 1000, 1500, 2000],
    perf: perf(X1, A_WAL_BEH, [A_WAL_BCQ, A_WAL_BCQ_SD], [A_WAL_DDPG, A_WAL_DDPG_SD], [A_WAL_DQN, A_WAL_DQN_SD], [A_WAL_BC, A_WAL_BC_SD], [A_WAL_VAE, A_WAL_VAE_SD]) },
  // (b)
  { title: 'HalfCheetah-v1', rect: [569.9, 49.3, 148.5, 135.7], x: R1, xt: XT1, y: [0, 1000], yt: VY1,
    value: { vx: VX1, tvx: TVX1, tv: B_HC_TRUE, bold: [['DDPG', B_HC_DDPG], ['DQN', B_HC_DQN], ['BCQ', B_HC_BCQ]],
      seeds: [['DDPG', B_HC_DDPG_SEEDS], ['DQN', B_HC_DQN_SEEDS], ['BCQ', B_HC_BCQ_SEEDS]] } },
  { title: 'Hopper-v1', rect: [740.6, 49.3, 147.8, 135.7], x: R1, xt: XT1, y: [0, 1000], yt: VY1,
    value: { vx: VX1, tvx: TVX1, tv: B_HOP_TRUE, bold: [['DDPG', B_HOP_DDPG, B_HOP_DDPG_X], ['BCQ', B_HOP_BCQ], ['DQN', B_HOP_DQN]],
      seeds: [['DDPG', B_HOP_DDPG_SEEDS], ['DQN', B_HOP_DQN_SEEDS], ['BCQ', B_HOP_BCQ_SEEDS]] } },
  { title: 'Walker2d-v1', rect: [910.6, 49.3, 147.2, 135.7], x: R1, xt: XT1, y: [0, 1000], yt: VY1,
    value: { vx: VX1, tvx: TVX1, tv: B_WAL_TRUE, bold: [['DDPG', B_WAL_DDPG], ['DQN', B_WAL_DQN], ['BCQ', B_WAL_BCQ]],
      seeds: [['DDPG', B_WAL_DDPG_SEEDS], ['DQN', B_WAL_DQN_SEEDS], ['BCQ', B_WAL_BCQ_SEEDS]] } },
  // (c)
  { title: 'HalfCheetah-v1', rect: [44.3, 276, 147.4, 136.7], x: R1, xt: XT1, y: [-1127, 11003], yt: [0, 2000, 4000, 6000, 8000, 10000],
    perf: perf(X1, C_HC_BEH, [C_HC_BCQ, C_HC_BCQ_SD], [C_HC_DDPG, C_HC_DDPG_SD], [C_HC_DQN, C_HC_DQN_SD], [C_HC_BC, C_HC_BC_SD], [C_HC_VAE, C_HC_VAE_SD]) },
  { title: 'Hopper-v1', rect: [213.3, 276, 147.7, 138], x: R1, xt: XT1, y: [-120, 3000], yt: [0, 500, 1000, 1500, 2000, 2500, 3000],
    perf: perf(X1, C_HOP_BEH, [C_HOP_BCQ, C_HOP_BCQ_SD], [C_HOP_DDPG, C_HOP_DDPG_SD], [C_HOP_DQN, C_HOP_DQN_SD], [C_HOP_BC, C_HOP_BC_SD], [C_HOP_VAE, C_HOP_VAE_SD]) },
  { title: 'Walker2d-v1', rect: [381.6, 276, 147.4, 136.7], x: R1, xt: XT1, y: [-138, 3000], yt: [0, 500, 1000, 1500, 2000, 2500, 3000],
    perf: perf(X1, C_WAL_BEH, [C_WAL_BCQ, C_WAL_BCQ_SD], [C_WAL_DDPG, C_WAL_DDPG_SD], [C_WAL_DQN, C_WAL_DQN_SD], [C_WAL_BC, C_WAL_BC_SD], [C_WAL_VAE, C_WAL_VAE_SD]) },
  // (d)
  { title: 'HalfCheetah-v1', rect: [569.9, 275.7, 148.5, 136.6], x: R1, xt: XT1, y: [0, 2000], yt: VY2,
    value: { vx: VX1, tvx: TVX1, tv: D_HC_TRUE, bold: [['BCQ', D_HC_BCQ], ['DDPG', D_HC_DDPG], ['DQN', D_HC_DQN]],
      seeds: [['DDPG', D_HC_DDPG_SEEDS], ['DQN', D_HC_DQN_SEEDS], ['BCQ', D_HC_BCQ_SEEDS]] } },
  { title: 'Hopper-v1', rect: [740.6, 275.7, 147.8, 136.6], x: R1, xt: XT1, y: [0, 2000], yt: VY2,
    value: { vx: VX1, tvx: TVX1, tv: D_HOP_TRUE, bold: [['DDPG', D_HOP_DDPG], ['DQN', D_HOP_DQN], ['BCQ', D_HOP_BCQ]],
      seeds: [['DQN', D_HOP_DQN_SEEDS], ['DDPG', D_HOP_DDPG_SEEDS], ['BCQ', D_HOP_BCQ_SEEDS]] } },
  { title: 'Walker2d-v1', rect: [910.6, 275.7, 147.2, 136.6], x: R1, xt: XT1, y: [0, 2000], yt: VY2,
    value: { vx: VX1, tvx: TVX1, tv: D_WAL_TRUE, bold: [['DDPG', D_WAL_DDPG], ['DQN', D_WAL_DQN], ['BCQ', D_WAL_BCQ]],
      seeds: [['DDPG', D_WAL_DDPG_SEEDS], ['DQN', D_WAL_DQN_SEEDS], ['BCQ', D_WAL_BCQ_SEEDS]] } },
  // (e)
  { title: 'HalfCheetah-v1', rect: [45, 503, 147.4, 135.7], x: R3, xt: XT3, y: [-1343, 10806], yt: [0, 2000, 4000, 6000, 8000, 10000],
    perf: perf(X3, E_HC_BEH, [E_HC_BCQ, E_HC_BCQ_SD], [E_HC_DDPG, E_HC_DDPG_SD], [E_HC_DQN, E_HC_DQN_SD], [E_HC_BC, E_HC_BC_SD], [E_HC_VAE, E_HC_VAE_SD]) },
  { title: 'Hopper-v1', rect: [213.25, 503, 148.5, 135.7], x: R3, xt: XT3, y: [-160, 3640], yt: [0, 500, 1000, 1500, 2000, 2500, 3000, 3500],
    perf: perf(X3, E_HOP_BEH, [E_HOP_BCQ, E_HOP_BCQ_SD], [E_HOP_DDPG, E_HOP_DDPG_SD], [E_HOP_DQN, E_HOP_DQN_SD], [E_HOP_BC, E_HOP_BC_SD], [E_HOP_VAE, E_HOP_VAE_SD]) },
  { title: 'Walker2d-v1', rect: [382.6, 503, 147.4, 135], x: R3, xt: XT3, y: [-168, 3620], yt: [0, 500, 1000, 1500, 2000, 2500, 3000, 3500],
    perf: perf(X3, E_WAL_BEH, [E_WAL_BCQ, E_WAL_BCQ_SD], [E_WAL_DDPG, E_WAL_DDPG_SD], [E_WAL_DQN, E_WAL_DQN_SD], [E_WAL_BC, E_WAL_BC_SD], [E_WAL_VAE, E_WAL_VAE_SD]) },
  // (f)
  { title: 'HalfCheetah-v1', rect: [569.9, 502.7, 148.5, 136], x: R3, xt: XT3, y: [0, 2000], yt: VY2,
    value: { vx: VX3, tvx: TVX3, tv: F_HC_TRUE, bold: [['BCQ', F_HC_BCQ], ['DDPG', F_HC_DDPG], ['DQN', F_HC_DQN]],
      seeds: [['DDPG', F_HC_DDPG_SEEDS], ['DQN', F_HC_DQN_SEEDS], ['BCQ', F_HC_BCQ_SEEDS]] } },
  { title: 'Hopper-v1', rect: [740.6, 502.7, 147.8, 136], x: R3, xt: XT3, y: [0, 2000], yt: VY2,
    value: { vx: VX3, tvx: TVX3, tv: F_HOP_TRUE, bold: [['DDPG', F_HOP_DDPG], ['DQN', F_HOP_DQN], ['BCQ', F_HOP_BCQ]],
      seeds: [['DDPG', F_HOP_DDPG_SEEDS], ['DQN', F_HOP_DQN_SEEDS], ['BCQ', F_HOP_BCQ_SEEDS]] } },
  { title: 'Walker2d-v1', rect: [910.6, 502.7, 147.2, 136], x: R3, xt: XT3, y: [0, 2000], yt: VY2,
    value: { vx: VX3, tvx: TVX3, tv: F_WAL_TRUE, bold: [['DDPG', F_WAL_DDPG], ['DQN', F_WAL_DQN], ['BCQ', F_WAL_BCQ]],
      seeds: [['DDPG', F_WAL_DDPG_SEEDS], ['DQN', F_WAL_DQN_SEEDS], ['BCQ', F_WAL_BCQ_SEEDS]] } }
];

const grids = [], xAxes = [], yAxes = [], series = [], graphics = [];
const axisLine = { show: true, onZero: false, lineStyle: { color: '#b3b3b3', width: 1.5 } };
const splitLine = { show: true, lineStyle: { color: '#ebebeb', width: 1 } };

// shaded mean +/- spread band, drawn as one polygon through the axis scales
function bandSeries(i, xs, mean, sd, color) {
  const lo = mean.map((m, k) => m - sd[k]);
  const hi = mean.map((m, k) => m + sd[k]);
  return {
    type: 'custom', xAxisIndex: i, yAxisIndex: i, silent: true, clip: true, z: 1,
    data: xs.map((x, k) => [x, lo[k], hi[k]]),
    encode: { x: 0, y: [1, 2] },
    renderItem: (params, api) => {
      if (params.dataIndex !== 0) return null;
      const top = xs.map((x, k) => api.coord([x, hi[k]]));
      const bottom = xs.map((x, k) => api.coord([x, lo[k]])).reverse();
      return { type: 'polygon', shape: { points: top.concat(bottom) }, style: { fill: rgba(color, 0.25) } };
    }
  };
}

function addPerf(i, d) {
  d.algos.forEach(([name, mean, sd]) => series.push(bandSeries(i, d.xs, mean, sd, COLOR[name])));
  d.algos.forEach(([name, mean]) => {
    series.push({ type: 'line', name, xAxisIndex: i, yAxisIndex: i, symbol: 'none', data: zip(d.xs, mean),
      lineStyle: { color: COLOR[name], width: 1.3 }, itemStyle: { color: COLOR[name] }, z: 2 });
  });
  const last = d.xs[d.xs.length - 1];
  const beh = Array.isArray(d.beh) ? zip(d.xs, d.beh) : [[0, d.beh], [last, d.beh]];
  series.push({ type: 'line', name: 'Behavioral', xAxisIndex: i, yAxisIndex: i, symbol: 'none', data: beh,
    lineStyle: { color: '#000', width: 2 }, itemStyle: { color: '#000' }, z: 3 });
}

function addValue(i, d) {
  d.seeds.forEach(([name, list]) => {
    list.forEach(ys => {
      series.push({ type: 'line', xAxisIndex: i, yAxisIndex: i, silent: true, symbol: 'none', data: zip(d.vx, ys),
        lineStyle: { color: COLOR[name], width: 1.1, opacity: 0.32 }, z: 1 });
    });
  });
  d.bold.forEach(([name, ys, xs]) => {
    series.push({ type: 'line', name, xAxisIndex: i, yAxisIndex: i, symbol: 'none', data: zip(xs || d.vx, ys),
      lineStyle: { color: COLOR[name], width: 2.8 }, itemStyle: { color: COLOR[name] }, z: 2 });
  });
  series.push({ type: 'line', name: 'True Value', xAxisIndex: i, yAxisIndex: i, data: zip(d.tvx, d.tv),
    symbol: 'circle', symbolSize: 6.5, lineStyle: { color: '#111', width: 1.2 },
    itemStyle: { color: '#3274a1', borderColor: '#1a2530', borderWidth: 1 }, z: 3 });
}

panels.forEach((p, i) => {
  const [left, top, width, height] = p.rect;
  grids.push({ left, top, width, height });
  xAxes.push({
    type: 'value', gridIndex: i, min: p.x[0], max: p.x[1],
    axisLine, splitLine,
    axisTick: { show: false, customValues: p.xt },
    axisLabel: { customValues: p.xt, formatter: v => v.toFixed(1), fontSize: 7.5, color: '#555', margin: 3, fontFamily: FONT },
    name: 'Time steps (1e6)', nameLocation: 'middle', nameGap: 11, nameMoveOverlap: false,
    nameTextStyle: { fontSize: 9.5, color: '#333', fontFamily: FONT }
  });
  yAxes.push({
    type: 'value', gridIndex: i, min: p.y[0], max: p.y[1],
    axisLine, splitLine,
    axisTick: { show: false, customValues: p.yt },
    axisLabel: { customValues: p.yt, formatter: v => String(Math.round(v)), fontSize: 7.5, color: '#555', margin: 4, fontFamily: FONT }
  });
  graphics.push({ type: 'text', x: left + width / 2, y: top - 8,
    style: { text: p.title, font: '13.5px "Liberation Sans"', fill: '#262626', textAlign: 'center', textVerticalAlign: 'middle' } });
  if (p.perf) addPerf(i, p.perf); else addValue(i, p.value);
});

// y-axis titles and sub-figure captions
[[14, 117, 'Average Return'], [14, 344, 'Average Return'], [14, 571, 'Average Return'],
 [541, 117, 'Estimated Value'], [541, 344, 'Estimated Value'], [541, 571, 'Estimated Value']].forEach(([x, y, t]) => {
  graphics.push({ type: 'text', x, y, rotation: Math.PI / 2,
    style: { text: t, font: '13px "Liberation Sans"', fill: '#262626', textAlign: 'center', textVerticalAlign: 'middle' } });
});
[[268.5, 231.5, '(a) Fixed buffer performance'], [796, 231.5, '(b) Fixed buffer value estimates'],
 [268.5, 459.5, '(c) Concurrent learning performance'], [797, 459.5, '(d) Concurrent learning value estimates'],
 [268.5, 686, '(e) Imitation learning performance'], [796, 686, '(f) Imitation learning value estimates']].forEach(([x, y, t]) => {
  graphics.push({ type: 'text', x, y,
    style: { text: t, font: '23.5px "Liberation Serif"', fill: '#000', textAlign: 'center', textVerticalAlign: 'middle' } });
});

const chart = echarts.init(document.getElementById('main'), null, { renderer: 'canvas' });
chart.setOption({
  backgroundColor: '#fff',
  animation: false,
  textStyle: { fontFamily: FONT },
  legend: {
    left: 186, top: 7, itemWidth: 18, itemHeight: 10, itemGap: 34, selectedMode: false,
    textStyle: { fontSize: 14, color: '#222', fontFamily: FONT },
    data: [
      { name: 'BCQ', icon: 'rect' }, { name: 'DDPG', icon: 'rect' }, { name: 'DQN', icon: 'rect' },
      { name: 'BC', icon: 'rect' }, { name: 'VAE-BC', icon: 'rect' }, { name: 'Behavioral', icon: 'rect' },
      { name: 'True Value' }
    ]
  },
  grid: grids,
  xAxis: xAxes,
  yAxis: yAxes,
  series,
  graphic: graphics
});
</script>
</body>
</html>
